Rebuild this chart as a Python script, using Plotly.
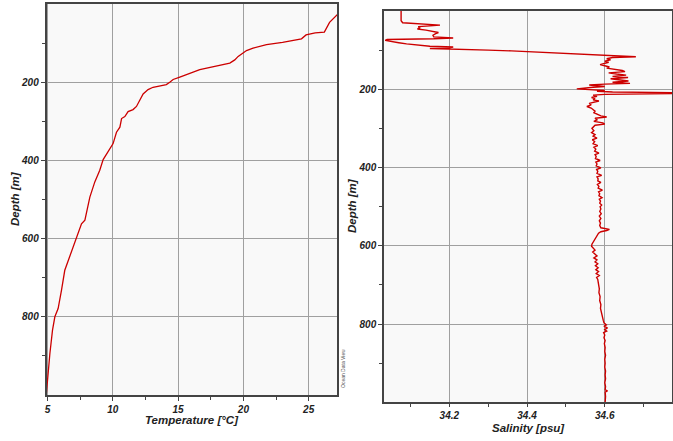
import plotly.graph_objects as go

# ---------------- data ----------------
temp_depth = [20, 30, 47, 72, 74, 79, 89, 98, 104, 113, 119, 134, 143, 151, 158, 168, 187, 193,
              200, 206, 213, 219, 230, 245, 262, 270, 275, 288, 293, 315, 328, 357, 379, 398,
              425, 455, 494, 536, 553, 562, 587, 604, 630, 681, 732, 779, 800, 834, 894, 945, 987, 1000]
temp_values = [27.4, 27.13, 26.6, 26.2, 25.5, 24.8, 24.45, 23.0, 21.77, 20.74, 20.24, 19.6, 19.34,
               18.96, 17.94, 16.66, 15.13, 14.62, 14.36, 14.1, 13.08, 12.7, 12.32, 12.07, 11.81,
               11.55, 11.17, 10.92, 10.67, 10.54, 10.28, 10.02, 9.64, 9.26, 9.0, 8.62, 8.24, 7.93,
               7.86, 7.6, 7.34, 7.17, 6.84, 6.32, 6.07, 5.81, 5.56, 5.38, 5.18, 5.05, 4.92, 4.9]

sal_depth = [0, 25, 30, 34, 36, 38, 40, 43, 46, 49, 52, 55, 58, 62, 66, 69, 71, 73, 75, 78, 81, 84,
             87, 90, 92, 94, 96, 98, 100, 102, 104, 106, 108, 111, 114, 117, 119, 122, 125, 128, 131,
             134, 137, 140, 143, 146, 149, 152, 155, 158, 161, 164, 167, 170, 173, 176, 179, 182, 185,
             187, 189, 191, 193, 195, 197, 199, 201, 203, 205, 207, 209, 211, 213, 215, 218, 221, 224,
             227, 230, 233, 236, 240, 244, 248, 252, 256, 260, 264, 268, 271, 274, 278, 282, 286, 289,
             292, 296,
             300, 306, 311, 316, 320, 325, 329, 334, 339, 344, 348, 353, 358, 363, 367, 372, 377, 382,
             386, 391, 396, 401, 405, 410, 415, 420, 424, 429, 434, 438, 443, 448, 453, 458, 462, 467,
             472, 477, 481, 486, 491, 496, 500, 506, 512, 518, 524, 530, 536, 542, 548, 554, 558, 561,
             564, 568, 574, 580, 586, 591, 596, 601, 606, 611, 616, 621, 626, 631, 636, 641, 646, 651,
             656, 661, 666, 671, 676, 681, 686, 692, 700, 710, 720, 730, 740, 750, 760, 770, 780, 790,
             797, 802, 806, 810, 814, 818, 822, 828, 835, 842, 850, 860, 870, 880, 890, 900, 910, 920,
             930, 940, 950, 960, 968, 971, 974, 985, 1000]
sal_values = [34.076, 34.076, 34.08, 34.13, 34.176, 34.15, 34.12, 34.125, 34.118, 34.14, 34.16,
              34.172, 34.165, 34.158, 34.16, 34.21, 34.16, 34.04, 34.035, 34.05, 34.07, 34.09, 34.12,
              34.15, 34.21, 34.2, 34.15, 34.27, 34.3, 34.36, 34.4, 34.44, 34.48, 34.53, 34.6, 34.68,
              34.62, 34.605, 34.615, 34.6, 34.61, 34.595, 34.588, 34.6, 34.612, 34.605, 34.63, 34.645,
              34.652, 34.61, 34.63, 34.655, 34.62, 34.66, 34.615, 34.64, 34.661, 34.62, 34.665, 34.6,
              34.56, 34.58, 34.6, 34.57, 34.54, 34.528, 34.56, 34.6, 34.58, 34.62, 34.80, 34.80, 34.6,
              34.57, 34.58, 34.566, 34.575, 34.57, 34.585, 34.57, 34.56, 34.565, 34.554, 34.565, 34.57,
              34.575, 34.572, 34.58, 34.59, 34.605, 34.575, 34.58, 34.572, 34.595, 34.6, 34.575, 34.57,
              34.567, 34.572, 34.566, 34.575, 34.57, 34.58, 34.568, 34.574, 34.57, 34.582, 34.572,
              34.577, 34.574, 34.585, 34.575, 34.578, 34.576, 34.588, 34.577, 34.58, 34.578, 34.59,
              34.579, 34.582, 34.58, 34.592, 34.58, 34.583, 34.582, 34.59, 34.581, 34.585, 34.583,
              34.594, 34.584, 34.587, 34.585, 34.593, 34.586, 34.589, 34.587, 34.592, 34.588, 34.59,
              34.587, 34.591, 34.586, 34.59, 34.586, 34.589, 34.587, 34.59, 34.612, 34.605, 34.59,
              34.584, 34.58, 34.577, 34.572, 34.57, 34.567, 34.566, 34.572, 34.575, 34.569, 34.574,
              34.58, 34.572, 34.58, 34.575, 34.582, 34.576, 34.583, 34.577, 34.584, 34.578, 34.586,
              34.579, 34.582, 34.583, 34.584, 34.586, 34.585, 34.588, 34.587, 34.59, 34.589, 34.592,
              34.593, 34.596, 34.598, 34.604, 34.598, 34.607, 34.6, 34.605, 34.597, 34.6, 34.598,
              34.601, 34.599, 34.601, 34.6, 34.602, 34.6, 34.601, 34.6, 34.602, 34.601, 34.602, 34.6,
              34.602, 34.601, 34.607, 34.601, 34.602, 34.601]

depth_ticks = [200, 400, 600, 800]
depth_minor = [100, 300, 500, 700, 900]
temp_ticks = [5, 10, 15, 20, 25]
temp_minor = [7.5, 12.5, 17.5, 22.5]
sal_ticks = [34.2, 34.4, 34.6]
sal_minor = [34.1, 34.3, 34.5, 34.7]

# ---------------- figure ----------------
W, H = 673, 441
LINE = "#cc0000"
fig = go.Figure()
fig.add_trace(go.Scatter(x=temp_values, y=temp_depth, mode="lines",
                         line=dict(color=LINE, width=1.3), xaxis="x", yaxis="y",
                         showlegend=False))
fig.add_trace(go.Scatter(x=sal_values, y=sal_depth, mode="lines",
                         line=dict(color=LINE, width=1.4), xaxis="x2", yaxis="y2",
                         showlegend=False))

tickfont = dict(family="Liberation Sans, Arial, sans-serif", size=10, color="#222",
                weight="bold", style="italic")

def ax(**kw):
    base = dict(showline=True, mirror=True, linecolor="#444", linewidth=1.5,
                showgrid=True, gridcolor="#a0a0a0", gridwidth=1, zeroline=False,
                ticks="outside", ticklen=4, tickcolor="#444", tickwidth=1,
                tickfont=tickfont, automargin=False)
    base.update(kw)
    return base

def px_x(v):
    return v / W

def px_y(v):
    return 1 - v / H

fig.update_layout(
    width=W, height=H, margin=dict(l=0, r=0, t=0, b=0, autoexpand=False),
    paper_bgcolor="white", plot_bgcolor="#f9f9f9",
    xaxis=ax(domain=[px_x(46.5), px_x(337)], range=[4.92, 27.17], tickvals=temp_ticks,
             anchor="y",
             minor=dict(tickvals=temp_minor, ticks="outside", ticklen=3, tickcolor="#444",
                        showgrid=False)),
    yaxis=ax(domain=[px_y(395), px_y(4)], range=[1000, 0], tickvals=depth_ticks,
             anchor="x",
             minor=dict(tickvals=depth_minor, ticks="outside", ticklen=3, tickcolor="#444",
                        showgrid=False)),
    xaxis2=ax(domain=[px_x(384), px_x(672)], range=[34.032, 34.773], tickvals=sal_ticks,
              ticktext=["34.2", "34.4", "34.6"], anchor="y2", ticklen=3,
              minor=dict(tickvals=sal_minor, ticks="outside", ticklen=3, tickcolor="#444",
                         showgrid=False)),
    yaxis2=ax(domain=[px_y(402.3), px_y(11)], range=[1000, 0], tickvals=depth_ticks,
              anchor="x2",
              minor=dict(tickvals=depth_minor, ticks="outside", ticklen=3, tickcolor="#444",
                         showgrid=False)),
)

titlefont = dict(family="Liberation Sans, Arial, sans-serif", size=11.5, color="#222",
                 weight="bold", style="italic")
fig.add_annotation(text="Temperature [°C]", x=px_x(191.5), y=px_y(420), xref="paper",
                   yref="paper", showarrow=False, font=titlefont, xanchor="center",
                   yanchor="middle")
fig.add_annotation(text="Salinity [psu]", x=px_x(528), y=px_y(428), xref="paper",
                   yref="paper", showarrow=False, font=titlefont, xanchor="center",
                   yanchor="middle")
fig.add_annotation(text="Depth [m]", x=px_x(15), y=px_y(199), xref="paper", yref="paper",
                   showarrow=False, font=titlefont, textangle=-90, xanchor="center",
                   yanchor="middle")
fig.add_annotation(text="Depth [m]", x=px_x(352), y=px_y(206), xref="paper", yref="paper",
                   showarrow=False, font=titlefont, textangle=-90, xanchor="center",
                   yanchor="middle")
fig.add_annotation(text="Ocean Data View", x=px_x(343), y=px_y(369), xref="paper",
                   yref="paper", showarrow=False,
                   font=dict(family="Liberation Sans, Arial, sans-serif", size=5, color="#555"),
                   textangle=-90, xanchor="center", yanchor="middle")

# the page body has a default 8px margin; remove it so the figure sits at the page origin
fig.write_html("out.html", config={"displayModeBar": False},
               post_script="document.body.style.margin='0';document.body.style.overflow='hidden';")
